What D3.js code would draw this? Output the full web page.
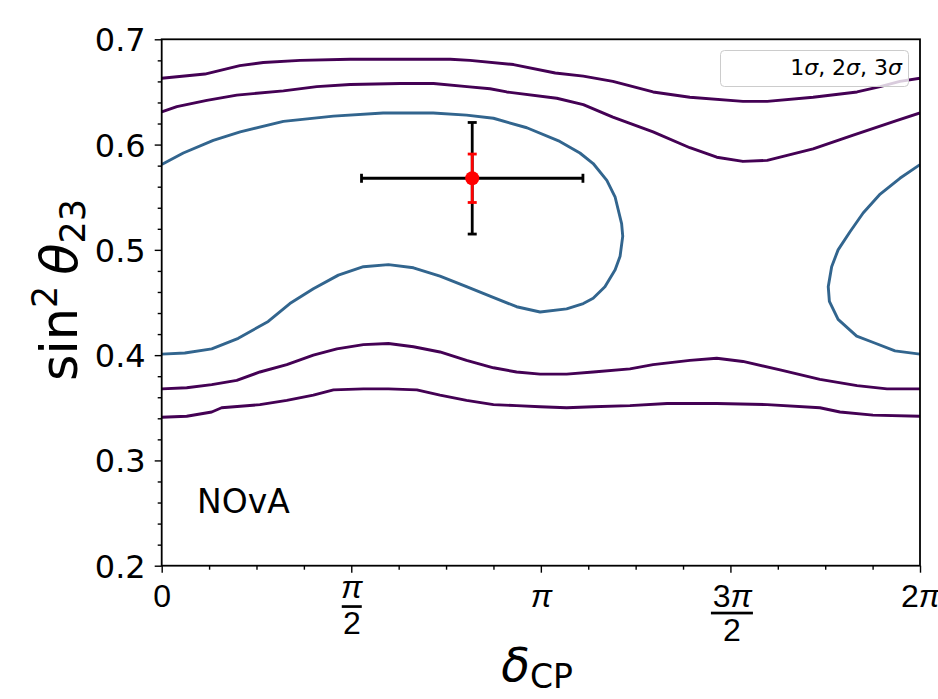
<!DOCTYPE html>
<html>
<head>
<meta charset="utf-8">
<script src="https://cdn.jsdelivr.net/npm/d3@7"></script>
<style>
  html, body { margin: 0; padding: 0; background: #ffffff; }
  svg { display: block; font-family: "DejaVu Sans", sans-serif; }
</style>
</head>
<body>
<svg id="chart" width="938" height="699"></svg>
<script>
// delta_CP is stored in units of pi, sin^2(theta_23) as a plain fraction.

// Outer (3 sigma) contour, upper branch
const sig3UpperDelta = [0, 0.114, 0.206, 0.268, 0.365, 0.497, 0.629, 0.761, 0.813, 0.928, 1.038, 1.112, 1.190, 1.296, 1.393, 1.533, 1.597, 1.718, 1.834, 1.895, 1.947, 2.0];
const sig3UpperS23   = [0.663, 0.667, 0.675, 0.678, 0.680, 0.681, 0.681, 0.681, 0.680, 0.676, 0.668, 0.665, 0.660, 0.650, 0.645, 0.641, 0.641, 0.645, 0.650, 0.655, 0.660, 0.663];

// 2 sigma contour, upper branch
const sig2UpperDelta = [0, 0.040, 0.119, 0.198, 0.321, 0.409, 0.497, 0.629, 0.717, 0.805, 0.866, 0.910, 1.042, 1.112, 1.190, 1.296, 1.393, 1.464, 1.533, 1.597, 1.718, 1.824, 1.940, 2.0];
const sig2UpperS23   = [0.631, 0.636, 0.642, 0.647, 0.651, 0.655, 0.657, 0.658, 0.658, 0.655, 0.653, 0.650, 0.644, 0.638, 0.626, 0.612, 0.597, 0.588, 0.584, 0.585, 0.596, 0.609, 0.623, 0.630];

// 1 sigma contour, main island
const sig1MainDelta = [0, 0.057, 0.136, 0.207, 0.321, 0.453, 0.584, 0.716, 0.804, 0.875, 0.963, 1.050, 1.103, 1.138, 1.174, 1.196, 1.213, 1.216, 1.209, 1.196, 1.169, 1.138, 1.112, 1.068, 0.998, 0.936, 0.866, 0.804, 0.734, 0.664, 0.598, 0.532, 0.466, 0.400, 0.338, 0.281, 0.202, 0.132, 0.061, 0];
const sig1MainS23   = [0.581, 0.592, 0.604, 0.612, 0.622, 0.627, 0.630, 0.630, 0.628, 0.625, 0.616, 0.603, 0.592, 0.582, 0.566, 0.550, 0.525, 0.513, 0.494, 0.481, 0.465, 0.454, 0.449, 0.444, 0.441, 0.446, 0.456, 0.465, 0.475, 0.483, 0.486, 0.484, 0.476, 0.463, 0.449, 0.432, 0.416, 0.406, 0.402, 0.401];

// 1 sigma contour, island wrapping in from 2 pi
const sig1EdgeDelta = [2.0, 1.947, 1.895, 1.850, 1.815, 1.784, 1.767, 1.758, 1.761, 1.784, 1.833, 1.877, 1.934, 2.0];
const sig1EdgeS23   = [0.581, 0.568, 0.553, 0.535, 0.517, 0.500, 0.484, 0.465, 0.451, 0.434, 0.418, 0.412, 0.404, 0.401];

// 2 sigma contour, lower branch
const sig2LowerDelta = [0, 0.066, 0.132, 0.198, 0.259, 0.330, 0.400, 0.462, 0.532, 0.598, 0.664, 0.734, 0.804, 0.875, 0.936, 0.998, 1.068, 1.138, 1.235, 1.296, 1.393, 1.464, 1.533, 1.631, 1.736, 1.834, 1.913, 2.0];
const sig2LowerS23   = [0.368, 0.369, 0.372, 0.376, 0.384, 0.391, 0.400, 0.406, 0.410, 0.411, 0.408, 0.403, 0.395, 0.388, 0.384, 0.382, 0.382, 0.384, 0.387, 0.391, 0.395, 0.397, 0.394, 0.386, 0.377, 0.371, 0.368, 0.368];

// Outer (3 sigma) contour, lower branch
const sig3LowerDelta = [0, 0.066, 0.132, 0.158, 0.259, 0.330, 0.400, 0.453, 0.532, 0.598, 0.673, 0.734, 0.804, 0.875, 0.936, 0.998, 1.068, 1.138, 1.235, 1.333, 1.464, 1.597, 1.736, 1.789, 1.876, 2.0];
const sig3LowerS23   = [0.341, 0.342, 0.346, 0.350, 0.353, 0.357, 0.362, 0.367, 0.368, 0.368, 0.367, 0.362, 0.357, 0.353, 0.352, 0.351, 0.350, 0.351, 0.352, 0.354, 0.354, 0.353, 0.350, 0.346, 0.343, 0.342];

// Best-fit point with its error bars
const bestDelta = 0.819;
const bestS23 = 0.568;
const deltaErr = 0.292;
const s23ErrWide = 0.053;
const s23ErrNarrow = 0.023;

// Axis ticks
const yMajorTicks = [0.2, 0.3, 0.4, 0.5, 0.6, 0.7];
const xMajorTicks = [0, 0.5, 1, 1.5, 2];
const legendParts = [["1", false], ["σ", true], [", 2", false], ["σ", true], [", 3", false], ["σ", true]];

const svg = d3.select("#chart");
const margin = { left: 161.7, right: 18, top: 39.3, bottom: 133.3 };
const W = 938, H = 699;

const x = d3.scaleLinear().domain([0, 2]).range([margin.left, W - margin.right]);
const y = d3.scaleLinear().domain([0.2, 0.7]).range([H - margin.bottom, margin.top]);

svg.append("defs").append("clipPath").attr("id", "plotclip")
  .append("rect")
  .attr("x", x(0)).attr("y", y(0.7))
  .attr("width", x(2) - x(0)).attr("height", y(0.2) - y(0.7));

const line = d3.line().x(d => x(d[0])).y(d => y(d[1]));
const zipPts = (a, b) => a.map((v, i) => [v, b[i]]);

const purple = "#440154";
const blue = "#32658e";

const contours = [
  { pts: zipPts(sig3UpperDelta, sig3UpperS23), color: purple },
  { pts: zipPts(sig2UpperDelta, sig2UpperS23), color: purple },
  { pts: zipPts(sig1MainDelta, sig1MainS23), color: blue },
  { pts: zipPts(sig1EdgeDelta, sig1EdgeS23), color: blue },
  { pts: zipPts(sig2LowerDelta, sig2LowerS23), color: purple },
  { pts: zipPts(sig3LowerDelta, sig3LowerS23), color: purple }
];

const plot = svg.append("g").attr("clip-path", "url(#plotclip)");
plot.selectAll("path.contour")
  .data(contours)
  .join("path")
  .attr("class", "contour")
  .attr("d", d => line(d.pts))
  .attr("fill", "none")
  .attr("stroke", d => d.color)
  .attr("stroke-width", 2.9)
  .attr("stroke-linejoin", "round");

// Error bars: wide black one with caps on both axes, narrow red one on top
const eb = svg.append("g");
const capHalf = 4.5;
function hSeg(g, x0, x1, yy, color) {
  g.append("line").attr("x1", x0).attr("x2", x1).attr("y1", yy).attr("y2", yy)
    .attr("stroke", color).attr("stroke-width", 2.8);
}
function vSeg(g, xx, y0, y1, color) {
  g.append("line").attr("x1", xx).attr("x2", xx).attr("y1", y0).attr("y2", y1)
    .attr("stroke", color).attr("stroke-width", 2.8);
}
const cx = x(bestDelta), cy = y(bestS23);
hSeg(eb, x(bestDelta - deltaErr), x(bestDelta + deltaErr), cy, "#000");
vSeg(eb, x(bestDelta - deltaErr), cy - capHalf, cy + capHalf, "#000");
vSeg(eb, x(bestDelta + deltaErr), cy - capHalf, cy + capHalf, "#000");
vSeg(eb, cx, y(bestS23 + s23ErrWide), y(bestS23 - s23ErrWide), "#000");
hSeg(eb, cx - capHalf, cx + capHalf, y(bestS23 + s23ErrWide), "#000");
hSeg(eb, cx - capHalf, cx + capHalf, y(bestS23 - s23ErrWide), "#000");
vSeg(eb, cx, y(bestS23 + s23ErrNarrow), y(bestS23 - s23ErrNarrow), "#ff0000");
hSeg(eb, cx - capHalf, cx + capHalf, y(bestS23 + s23ErrNarrow), "#ff0000");
hSeg(eb, cx - capHalf, cx + capHalf, y(bestS23 - s23ErrNarrow), "#ff0000");
eb.append("circle").attr("cx", cx).attr("cy", cy).attr("r", 7).attr("fill", "#ff0000");

// Axes
const yMinor = d3.range(0.2, 0.7001, 0.02).filter(v => Math.abs(v * 10 - Math.round(v * 10)) > 1e-6);
const xMinor = d3.range(0, 2.0001, 0.125).filter(v => Math.abs(v * 2 - Math.round(v * 2)) > 1e-6);
const tickFont = 32;

const gyMinor = svg.append("g").attr("transform", `translate(${x(0)},0)`)
  .call(d3.axisLeft(y).tickValues(yMinor).tickSize(4).tickFormat(""));
const gy = svg.append("g").attr("transform", `translate(${x(0)},0)`)
  .call(d3.axisLeft(y).tickValues(yMajorTicks).tickSize(7).tickPadding(9).tickFormat(d3.format(".1f")));
gy.selectAll("text").attr("font-size", tickFont).attr("font-family", "DejaVu Sans").attr("fill", "#000").attr("dy", "0.36em");

const gxMinor = svg.append("g").attr("transform", `translate(0,${y(0.2)})`)
  .call(d3.axisBottom(x).tickValues(xMinor).tickSize(4).tickFormat(""));
const gx = svg.append("g").attr("transform", `translate(0,${y(0.2)})`)
  .call(d3.axisBottom(x).tickValues(xMajorTicks).tickSize(7).tickFormat(""));

[gyMinor, gy, gxMinor, gx].forEach(g => {
  g.select(".domain").remove();
  g.selectAll("line").attr("stroke", "#000").attr("stroke-width", 1.4);
});

// pi-fraction tick labels
gx.selectAll(".tick").each(function (d) {
  const g = d3.select(this);
  const base = 41;
  const piT = (sel) => sel.append("tspan").attr("font-style", "italic").text("π");
  const txt = (yy, xx) => g.append("text").attr("y", yy).attr("x", xx || 0).attr("text-anchor", "middle")
    .attr("font-size", tickFont).attr("fill", "#000");
  if (d === 0) {
    txt(base).text("0");
  } else if (d === 1) {
    piT(txt(base));
  } else if (d === 2) {
    const t = txt(base);
    t.append("tspan").text("2");
    piT(t);
  } else if (d === 0.5) {
    piT(txt(32));
    g.append("rect").attr("x", -10).attr("y", 39.5).attr("width", 20).attr("height", 2.7).attr("fill", "#000");
    txt(68.5).text("2");
  } else {
    const t = txt(41.5, 1.5);
    t.append("tspan").text("3");
    piT(t);
    g.append("rect").attr("x", -20).attr("y", 46).attr("width", 42).attr("height", 2.7).attr("fill", "#000");
    txt(75.5, 1).text("2");
  }
});

// Frame
svg.append("rect")
  .attr("x", x(0)).attr("y", y(0.7))
  .attr("width", x(2) - x(0)).attr("height", y(0.2) - y(0.7))
  .attr("fill", "none").attr("stroke", "#000").attr("stroke-width", 1.8);

// Axis titles
const xl = svg.append("text").attr("x", 537).attr("y", 681).attr("text-anchor", "middle").attr("font-size", 47).attr("fill", "#000");
xl.append("tspan").attr("font-style", "italic").text("δ");
xl.append("tspan").attr("font-size", 33).attr("dy", 7).text("CP");

const yl = svg.append("text").attr("transform", "translate(77,290) rotate(-90)").attr("text-anchor", "middle").attr("font-size", 51).attr("fill", "#000");
yl.append("tspan").text("sin");
yl.append("tspan").attr("font-size", 35).attr("dy", -20).text("2");
yl.append("tspan").attr("dy", 20).attr("dx", 11).attr("font-style", "italic").text("θ");
yl.append("tspan").attr("font-size", 35).attr("dy", 8).text("23");

// Experiment tag
svg.append("text").attr("x", 197).attr("y", 513).attr("font-size", 33).attr("fill", "#000").text("NOvA");

// Legend
const lg = svg.append("g");
lg.append("rect").attr("x", 720.5).attr("y", 50.5).attr("width", 188).attr("height", 36).attr("rx", 4)
  .attr("fill", "#ffffff").attr("fill-opacity", 0.8).attr("stroke", "#cccccc").attr("stroke-width", 1);
const lt = lg.append("text").attr("x", 902).attr("y", 75).attr("text-anchor", "end").attr("font-size", 22).attr("fill", "#000").attr("xml:space", "preserve");
legendParts.forEach(([s, it]) => {
  const sp = lt.append("tspan").text(it ? s : s.replace(", ", ", "));
  if (it) sp.attr("font-style", "italic");
});
</script>
</body>
</html>
